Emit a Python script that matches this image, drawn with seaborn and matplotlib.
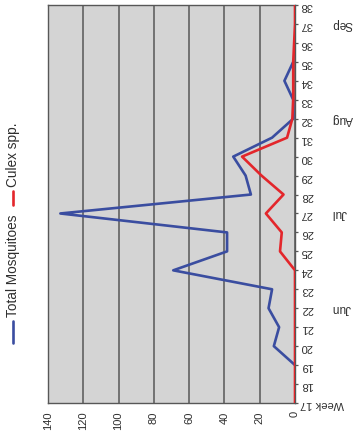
import matplotlib
matplotlib.use("Agg")
import matplotlib.pyplot as plt
from matplotlib.lines import Line2D
import seaborn as sns

# ── Data ──────────────────────────────────────────────────────────────────────
WEEKS_TOTAL = list(range(19, 36))
TOTAL = [0, 12, 9, 15, 13, 69, 38.5, 38.5, 133, 25, 28, 35, 13, 1, 1, 6, 1]

WEEKS_CULEX = list(range(17, 39))
CULEX = [0, 0, 0, 0, 0, 0, 0, 0, 8.5, 7.5, 16.5, 6.5, 19, 30, 4.5,
         1.5, 1, 1, 1, 0.5, 0, 0]

WEEK_TICKS = list(range(17, 39))
WEEK_LABELS = ["Week 17"] + [str(w) for w in range(18, 39)]
COUNT_TICKS = [0, 20, 40, 60, 80, 100, 120, 140]
MONTHS = ["Jun", "Jul", "Aug", "Sep"]
MONTH_WEEKS = [22, 27, 32, 37]

COL_TOTAL = "#3a4da0"
COL_CULEX = "#e3262b"
COL_GRID = "#575757"
COL_TEXT = "#2e2e2e"

sns.set_style("white")
plt.rcParams["font.family"] = ["Liberation Sans", "DejaVu Sans"]

W, H = 357, 438
fig = plt.figure(figsize=(W / 100, H / 100), dpi=100)
ax = fig.add_axes([48 / W, 1 - 403 / H, (295 - 48) / W, (403 - 5) / H])
ax.set_facecolor("#d4d4d4")

# chart is drawn rotated: counts run right->left, weeks bottom->top
sns.lineplot(x=TOTAL, y=WEEKS_TOTAL, orient="y", color=COL_TOTAL,
             lw=1.9, ax=ax, zorder=3)
sns.lineplot(x=CULEX, y=WEEKS_CULEX, orient="y", color=COL_CULEX,
             lw=1.9, ax=ax, zorder=4)

ax.set_xlim(140, 0)
ax.set_ylim(17, 38)
ax.set_xlabel("")
ax.set_ylabel("")

ax.set_xticks(COUNT_TICKS)
ax.set_xticklabels([str(v) for v in COUNT_TICKS], rotation=90)
ax.yaxis.tick_right()
ax.set_yticks(WEEK_TICKS)
ax.set_yticklabels(WEEK_LABELS, rotation=180)

ax.tick_params(axis="x", length=3, width=0.9, pad=3, color=COL_GRID,
               labelsize=8, labelcolor=COL_TEXT)
ax.tick_params(axis="y", length=2.5, width=0.9, pad=1.5, color=COL_GRID,
               labelsize=8, labelcolor=COL_TEXT)

ax.grid(axis="x", color=COL_GRID, lw=1.1)
ax.grid(axis="y", visible=False)
ax.set_axisbelow(True)
for side in ["left", "top", "bottom", "right"]:
    ax.spines[side].set_color(COL_GRID)
    ax.spines[side].set_linewidth(1.0)

# month labels beyond week ticks (upside down, like the weeks)
for m, w in zip(MONTHS, MONTH_WEEKS):
    ax.text(1.15, w, m, transform=ax.get_yaxis_transform(), rotation=180,
            ha="left", va="center", fontsize=8.5, color=COL_TEXT)

# ── Legend (rotated, left side) ───────────────────────────────────────────────
LX = 13 / W
fig.add_artist(Line2D([LX, LX], [1 - 343 / H, 1 - 321 / H],
                      transform=fig.transFigure, color=COL_TOTAL, lw=1.9))
fig.text(LX, 1 - 317 / H, "Total Mosquitoes", rotation=90, ha="center",
         va="bottom", fontsize=9.8, color=COL_TEXT)
fig.add_artist(Line2D([LX, LX], [1 - 205 / H, 1 - 191 / H],
                      transform=fig.transFigure, color=COL_CULEX, lw=1.9))
fig.text(LX, 1 - 187 / H, "Culex spp.", rotation=90, ha="center",
         va="bottom", fontsize=9.8, color=COL_TEXT)

fig.savefig("out.png", dpi=100)
